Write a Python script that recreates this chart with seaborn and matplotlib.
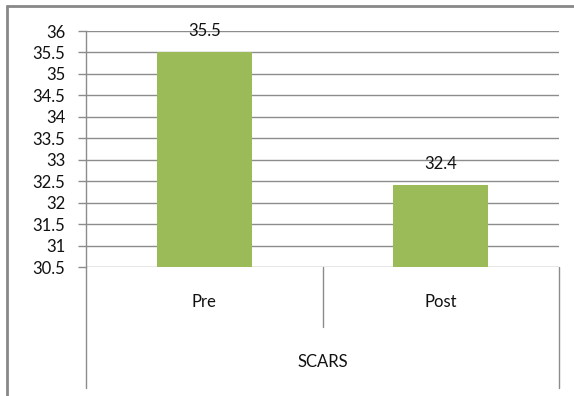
import matplotlib
matplotlib.use("Agg")
import matplotlib.pyplot as plt
import matplotlib.transforms as mtransforms
from matplotlib.lines import Line2D
import seaborn as sns
import pandas as pd

# Data
categories = ["Pre", "Post"]
values = [35.5, 32.4]
group_label = "SCARS"
y_ticks = [30.5, 31, 31.5, 32, 32.5, 33, 33.5, 34, 34.5, 35, 35.5, 36]

BAR = "#9BBB59"
GRID = "#8C8C8C"
FRAME = "#888888"
TEXT = "#111111"
FS = 12

sns.set_theme(style="white")
plt.rcParams["font.family"] = ["Lato", "DejaVu Sans"]

W, H = 574, 396
fig = plt.figure(figsize=(W / 100, H / 100), dpi=100)

# plot area in pixels
left, right, top, bottom = 86, 559, 31, 267
ax = fig.add_axes([left / W, 1 - bottom / H, (right - left) / W, (bottom - top) / H])

df = pd.DataFrame({"cat": categories, "val": values})
sns.barplot(data=df, x="cat", y="val", color=BAR, width=0.4, saturation=1,
            linewidth=0, edgecolor=BAR, ax=ax, zorder=3)

ax.set_ylim(30.5, 36)
ax.set_xlim(-0.5, 1.5)
ax.set_yticks(y_ticks)
ax.set_yticklabels([f"{t:g}" for t in y_ticks], fontsize=FS, color=TEXT)
ax.set_xticks([])
ax.set_xlabel("")
ax.set_ylabel("")
ax.tick_params(axis="y", direction="out", length=6, width=1, color=GRID, pad=9, left=True)

for y in y_ticks:
    ax.axhline(y, color=GRID, lw=1, zorder=1)

for s in ["top", "right", "bottom"]:
    ax.spines[s].set_visible(False)
ax.spines["left"].set_color(GRID)
ax.spines["left"].set_linewidth(1)

# value labels above the bars
for i, v in enumerate(values):
    ax.annotate(f"{v:g}", (i, v), xytext=(0, 15.5), textcoords="offset points",
                ha="center", va="center", fontsize=FS, color=TEXT, zorder=4)

# multi-level category axis below the plot
ph = bottom - top
def ay(py):
    return -(py - bottom) / ph

trans = ax.transAxes
for x0, y_end in [(0, 388), (1, 388), (0.5, 327)]:
    ax.add_line(Line2D([x0, x0], [0, ay(y_end)], transform=trans, color=GRID,
                       lw=1, clip_on=False))

tx = mtransforms.blended_transform_factory(ax.transData, ax.transAxes)
for i, c in enumerate(categories):
    ax.text(i, ay(302), c, transform=tx, ha="center", va="center",
            fontsize=FS, color=TEXT)
ax.text(0.5, ay(362), group_label, transform=trans, ha="center", va="center",
        fontsize=FS, color=TEXT)

# chart frame (top and left edges)
fig.add_artist(Line2D([7 / W, 7 / W], [0, 1 - 6 / H], transform=fig.transFigure,
                      color=FRAME, lw=2))
fig.add_artist(Line2D([7 / W, 1], [1 - 6 / H, 1 - 6 / H], transform=fig.transFigure,
                      color=FRAME, lw=2))

fig.savefig("out.png", dpi=100)
